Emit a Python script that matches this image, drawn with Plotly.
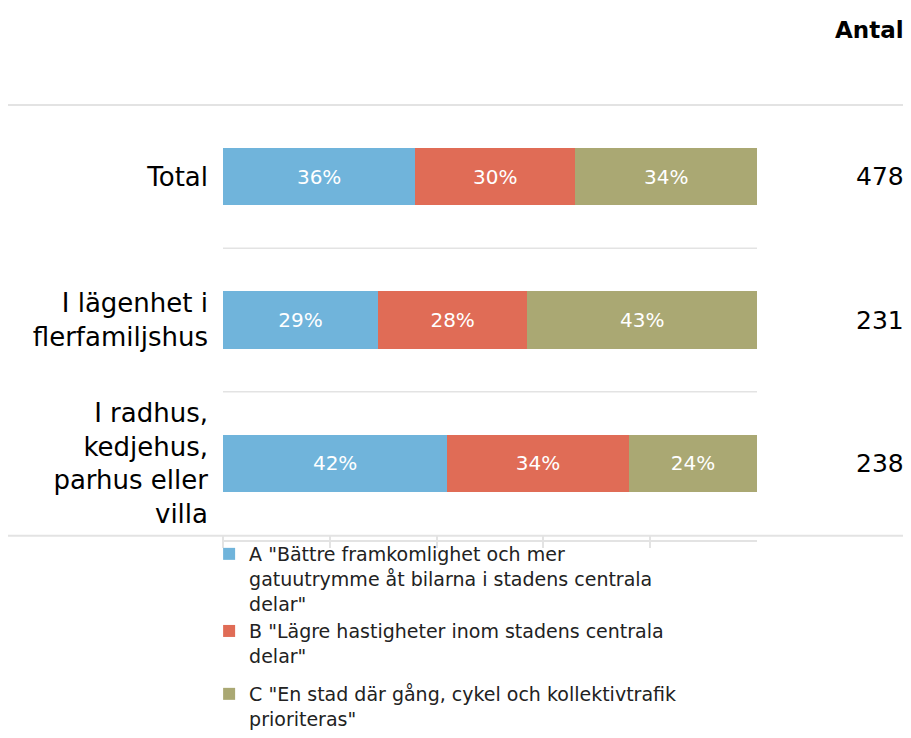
import plotly.graph_objects as go

categories = ["Total", "I lägenhet i<br>flerfamiljshus", "I radhus,<br>kedjehus,<br>parhus eller<br>villa"]
antal = [478, 231, 238]

series_names = [
    'A "Bättre framkomlighet och mer<br>gatuutrymme åt bilarna i stadens centrala<br>delar"',
    'B "Lägre hastigheter inom stadens centrala<br>delar"',
    'C "En stad där gång, cykel och kollektivtrafik<br>prioriteras"',
]
share_a = [36, 29, 42]
share_b = [30, 28, 34]
share_c = [34, 43, 24]

COLORS = ["#70B4DB", "#E06C56", "#AAA873"]
FONT = "DejaVu Sans"
GRID = "#e3e3e3"

# the page adds an 8px body margin, so the figure is drawn 8px smaller
W, H = 903, 730
TOP, BOTTOM = 97, 0
PLOT_H = 430  # height of the bar area
paper_h = H - TOP - BOTTOM

fig = go.Figure()
for name, vals, color, leg in zip(series_names, [share_a, share_b, share_c], COLORS,
                                  ["legend", "legend", "legend2"]):
    fig.add_trace(go.Bar(
        y=categories,
        x=vals,
        name=name,
        orientation="h",
        legend=leg,
        marker=dict(color=color, line=dict(width=0)),
        text=[f"{v}%" for v in vals],
        textposition="inside",
        insidetextanchor="middle",
        textfont=dict(family=FONT, size=20, color="white"),
        hoverinfo="skip",
    ))

# Antal column
for cat, n in zip(categories, antal):
    fig.add_annotation(x=1.279, xref="x domain", y=cat, yref="y", text=str(n),
                       showarrow=False, xanchor="right",
                       font=dict(family=FONT, size=25, color="black"))
fig.add_annotation(x=1.279, xref="x domain", y=1.174, yref="y domain", text="<b>Antal</b>",
                   showarrow=False, xanchor="right", yanchor="middle",
                   font=dict(family=FONT, size=23, color="black"))

shapes = [
    # full-width top and bottom rules
    dict(type="line", xref="x domain", yref="y domain", x0=-0.403, x1=1.3, y0=1, y1=1,
         line=dict(color=GRID, width=2)),
    dict(type="line", xref="x domain", yref="y domain", x0=-0.403, x1=1.3, y0=-0.002, y1=-0.002,
         line=dict(color=GRID, width=2)),
    # axis line slightly below
    dict(type="line", xref="x domain", yref="y domain", x0=0, x1=1, y0=-0.014, y1=-0.014,
         line=dict(color=GRID, width=2)),
]
for yb in [0.5, 1.5]:
    shapes.append(dict(type="line", xref="x domain", yref="y", x0=0, x1=1, y0=yb, y1=yb,
                       line=dict(color=GRID, width=1.5)))

legend_style = dict(x=-0.026, xanchor="left", valign="top", orientation="v",
                    traceorder="normal", itemwidth=30, bgcolor="rgba(0,0,0,0)",
                    font=dict(family=FONT, size=19, color="#222222"))

fig.update_layout(
    barmode="stack",
    bargap=0.6,
    width=W,
    height=H,
    margin=dict(l=215, r=154, t=TOP, b=BOTTOM),
    paper_bgcolor="white",
    plot_bgcolor="white",
    shapes=shapes,
    xaxis=dict(range=[0, 100], tickvals=[0, 20, 40, 60, 80], showgrid=False, zeroline=False,
               showticklabels=False, ticks="outside", ticklen=12, tickcolor=GRID,
               tickwidth=1.5, showline=False, fixedrange=True),
    yaxis=dict(domain=[1 - PLOT_H / paper_h, 1], autorange="reversed",
               showgrid=False, zeroline=False, showline=False,
               ticks="", ticklabelstandoff=14,
               tickfont=dict(family=FONT, size=26, color="black")),
    legend=dict(y=(H - 527) / paper_h, yanchor="top", **legend_style),
    legend2=dict(y=0, yanchor="bottom", **legend_style),
    font=dict(family=FONT),
)

fig.write_html("out.html")
